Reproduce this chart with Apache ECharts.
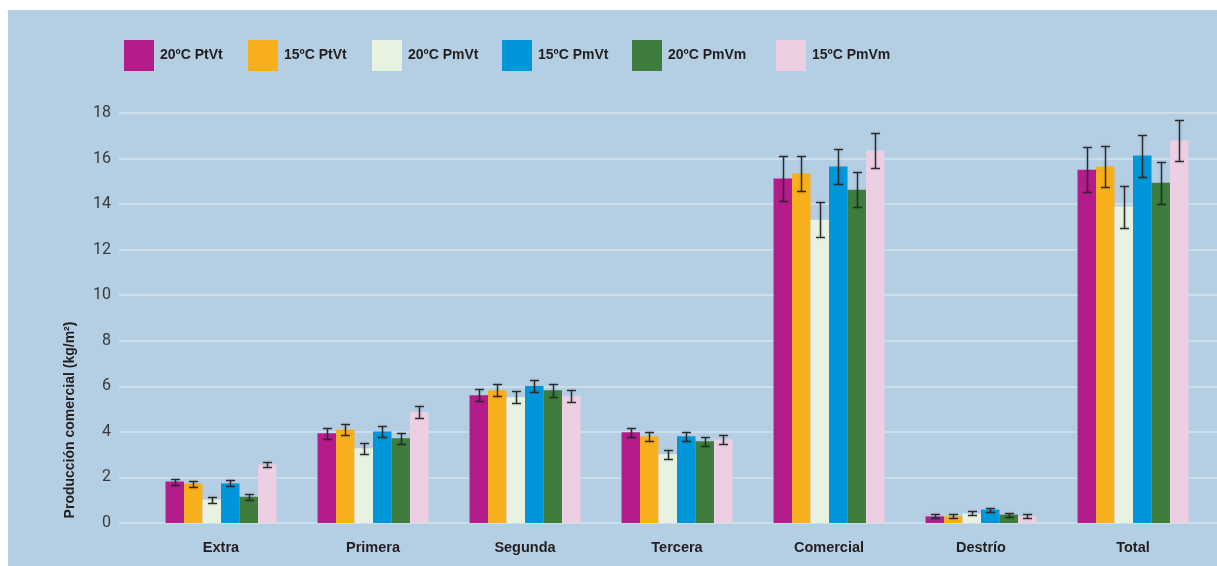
<!DOCTYPE html>
<html>
<head>
<meta charset="utf-8">
<script src="https://cdn.jsdelivr.net/npm/echarts@6/dist/echarts.min.js"></script>
<style>
  html, body { margin: 0; padding: 0; background: #ffffff; }
  #panel { position: absolute; left: 8px; top: 10px; width: 1209px; height: 556px; background: #B4CEE4; }
  #chart { position: absolute; left: 0; top: 0; width: 1217px; height: 566px; }
</style>
</head>
<body>
<div id="panel"></div>
<div id="chart"></div>
<script>
// Categories of commercial production
const categories = ['Extra', 'Primera', 'Segunda', 'Tercera', 'Comercial', 'Destrío', 'Total'];

// Treatment names
const seriesNames = ['20ºC PtVt', '15ºC PtVt', '20ºC PmVt', '15ºC PmVt', '20ºC PmVm', '15ºC PmVm'];

// Mean production (kg/m²) per treatment
const t20PtVt = [1.82, 3.94, 5.61, 3.98, 15.12, 0.29, 15.51];
const t15PtVt = [1.73, 4.11, 5.83, 3.81, 15.34, 0.29, 15.65];
const t20PmVt = [1.03, 3.28, 5.52, 3.02, 13.31, 0.42, 13.89];
const t15PmVt = [1.74, 4.02, 6.01, 3.81, 15.65, 0.59, 16.13];
const t20PmVm = [1.15, 3.72, 5.83, 3.59, 14.63, 0.37, 14.94];
const t15PmVm = [2.57, 4.87, 5.57, 3.67, 16.35, 0.29, 16.79];

// Error (± kg/m²) per treatment
const e20PtVt = [0.13, 0.25, 0.27, 0.21, 1.00, 0.09, 0.98];
const e15PtVt = [0.13, 0.25, 0.27, 0.20, 0.77, 0.09, 0.92];
const e20PmVt = [0.13, 0.25, 0.27, 0.20, 0.77, 0.09, 0.92];
const e15PmVt = [0.13, 0.25, 0.28, 0.20, 0.76, 0.09, 0.92];
const e20PmVm = [0.12, 0.25, 0.28, 0.20, 0.76, 0.09, 0.92];
const e15PmVm = [0.13, 0.25, 0.26, 0.20, 0.76, 0.09, 0.91];

// Y axis ticks
const yTicks = [0, 2, 4, 6, 8, 10, 12, 14, 16, 18];
const yTitle = 'Producción comercial (kg/m²)';

const means = [t20PtVt, t15PtVt, t20PmVt, t15PmVt, t20PmVm, t15PmVm];
const errors = [e20PtVt, e15PtVt, e20PmVt, e15PmVt, e20PmVm, e15PmVm];
const colors = ['#B41C8C', '#F9AE1C', '#E7F2E0', '#0096DA', '#3E7D3E', '#ECCFE2'];

const CAT_GAP = 0.27;
const labelFont = '"Liberation Sans", Arial, sans-serif';

const chart = echarts.init(document.getElementById('chart'), null, { renderer: 'canvas' });

const legendLeft = [124, 248, 372, 502, 632, 776];

function errorRenderer(si) {
  return function (params, api) {
    const ci = api.value(0);
    const v = api.value(1);
    const e = api.value(2);
    const band = api.size([1, 0])[0];
    const groupW = band * (1 - CAT_GAP);
    const bw = groupW / seriesNames.length;
    const x = Math.round(api.coord([ci, 0])[0] - groupW / 2 + bw * (si + 0.5)) + 0.5;
    const yTop = Math.round(api.coord([ci, v + e])[1]) + 0.5;
    const yBot = Math.round(api.coord([ci, v - e])[1]) + 0.5;
    const cap = 4.5;
    const style = {
      stroke: '#2a2a2a', lineWidth: 1.3,
      shadowColor: 'rgba(0,0,0,0.35)', shadowBlur: 2
    };
    return {
      type: 'group',
      children: [
        { type: 'line', shape: { x1: x, y1: yTop, x2: x, y2: yBot }, style: style },
        { type: 'line', shape: { x1: x - cap, y1: yTop, x2: x + cap, y2: yTop }, style: style },
        { type: 'line', shape: { x1: x - cap, y1: yBot, x2: x + cap, y2: yBot }, style: style }
      ]
    };
  };
}

const series = [];
seriesNames.forEach((name, i) => {
  series.push({
    name: name,
    type: 'bar',
    xAxisIndex: 0,
    yAxisIndex: 0,
    data: means[i],
    barGap: '0%',
    barCategoryGap: (CAT_GAP * 100) + '%',
    itemStyle: { color: colors[i] },
    emphasis: { disabled: true },
    z: 2
  });
});
seriesNames.forEach((name, i) => {
  series.push({
    name: 'err ' + name,
    type: 'custom',
    xAxisIndex: 0,
    yAxisIndex: 0,
    renderItem: errorRenderer(i),
    data: means[i].map((v, ci) => [ci, v, errors[i][ci]]),
    encode: { x: 0, y: 1 },
    silent: true,
    z: 5
  });
});

const option = {
  backgroundColor: 'transparent',
  animation: false,
  legend: seriesNames.map((name, i) => ({
    data: [{ name: name, icon: 'rect' }],
    left: legendLeft[i],
    top: 40,
    padding: 0,
    itemWidth: 30,
    itemHeight: 31,
    itemGap: 0,
    selectedMode: false,
    textStyle: { fontFamily: labelFont, fontWeight: 'bold', fontSize: 14, color: '#231F20', padding: [0, 0, 0, 1] }
  })),
  grid: [
    { left: 145, right: 8, top: 113, bottom: 43 },
    { left: 119, right: 0, top: 113, bottom: 43 }
  ],
  xAxis: [
    {
      type: 'category', gridIndex: 0, data: categories, boundaryGap: true,
      axisLine: { show: false }, axisTick: { show: false },
      axisLabel: { margin: 17, fontFamily: labelFont, fontWeight: 'bold', fontSize: 14.5, color: '#231F20' }
    },
    { type: 'value', gridIndex: 1, show: false, min: 0, max: 1 }
  ],
  yAxis: [
    { type: 'value', gridIndex: 0, min: yTicks[0], max: yTicks[yTicks.length - 1], interval: 2, show: false },
    {
      type: 'value', gridIndex: 1, min: yTicks[0], max: yTicks[yTicks.length - 1], interval: 2,
      axisLine: { show: false }, axisTick: { show: false },
      axisLabel: { margin: 8, fontFamily: 'Roboto, "Liberation Sans", sans-serif', fontSize: 16, color: '#3a3a3a' },
      splitLine: { show: true, lineStyle: { color: '#CCDDEC', width: 2 } }
    }
  ],
  graphic: [
    {
      type: 'text',
      x: 70, y: 420,
      rotation: Math.PI / 2,
      style: {
        text: yTitle,
        fontFamily: labelFont, fontWeight: 'bold', fontSize: 14, fill: '#231F20',
        align: 'center', verticalAlign: 'middle'
      }
    }
  ],
  series: series
};

chart.setOption(option);
</script>
</body>
</html>
